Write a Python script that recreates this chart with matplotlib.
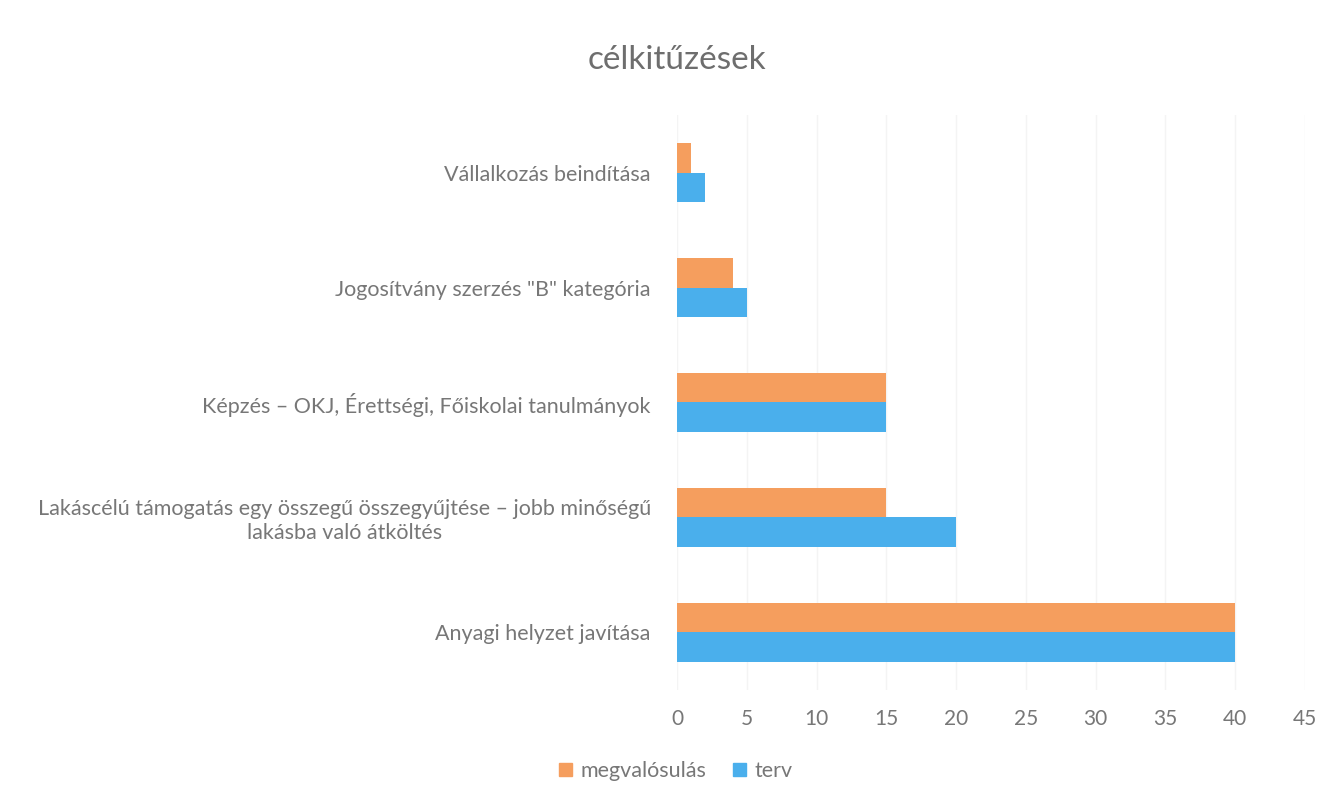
import numpy as np
import matplotlib
matplotlib.use("Agg")
import matplotlib.pyplot as plt
from matplotlib.patches import Patch

categories = [
    "Anyagi helyzet javítása",
    "Lakáscélú támogatás egy összegű összegyűjtése – jobb minőségű\nlakásba való átköltés",
    "Képzés – OKJ, Érettségi, Főiskolai tanulmányok",
    "Jogosítvány szerzés \"B\" kategória",
    "Vállalkozás beindítása",
]
megvalosulas = [40, 15, 15, 4, 1]
terv = [40, 20, 15, 5, 2]
xticks = [0, 5, 10, 15, 20, 25, 30, 35, 40, 45]

orange = "#F59E5E"
blue = "#4AAFEC"
text_col = "#777777"

plt.rcParams["font.family"] = ["Lato", "DejaVu Sans"]

fig = plt.figure(figsize=(13.33, 8.05), dpi=100)
ax = fig.add_axes([0.508, 0.143, 0.471, 0.714])

y = np.arange(len(categories))
h = 0.26
ax.barh(y + h / 2, megvalosulas, height=h, color=orange, label="megvalósulás")
ax.barh(y - h / 2, terv, height=h, color=blue, label="terv")

ax.set_xlim(0, 45)
ax.set_ylim(-0.5, 4.5)
ax.set_xticks(xticks)
ax.set_xticklabels([str(t) for t in xticks], fontsize=15, color=text_col)
ax.set_yticks(y)
ax.set_yticklabels(categories, fontsize=15.5, color=text_col,
                   multialignment="center")
ax.tick_params(axis="both", length=0)
ax.tick_params(axis="x", pad=14)
ax.tick_params(axis="y", pad=19)
ax.grid(axis="x", color="#f4f4f4", linewidth=1)
ax.set_axisbelow(True)
for s in ax.spines.values():
    s.set_visible(False)

fig.text(0.508, 0.925, "célkitűzések", fontsize=24, color="#6e6e6e",
         ha="center", va="center")

handles = [Patch(color=orange, label="megvalósulás"), Patch(color=blue, label="terv")]
fig.legend(handles=handles, loc="center", bbox_to_anchor=(0.507, 0.042), ncol=2,
           frameon=False, fontsize=15.5, handlelength=0.6, handleheight=0.6,
           handletextpad=0.4, columnspacing=1.2, labelcolor=text_col)

fig.savefig("out.png", dpi=100, facecolor="white")
